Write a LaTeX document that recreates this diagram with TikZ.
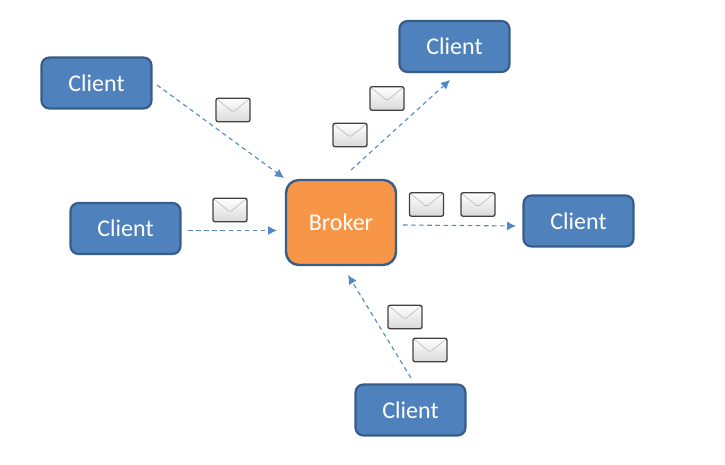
\documentclass[tikz,border=0pt]{standalone}
\usepackage{fontspec}
\setmainfont{Carlito}
\usetikzlibrary{arrows.meta}
\definecolor{cfill}{RGB}{79,129,189}
\definecolor{cline}{RGB}{56,93,138}
\definecolor{bfill}{RGB}{247,150,70}
\definecolor{aline}{RGB}{84,136,197}
\tikzset{
  x=1pt,y=-1pt,
  clientbox/.style={draw=cline,line width=2.2pt,fill=cfill,rounded corners=8pt,minimum width=110pt,minimum height=51pt,inner sep=0pt,text=white,font=\fontsize{24}{28}\selectfont},
  brokerbox/.style={draw=cline,line width=2.4pt,fill=bfill,rounded corners=13pt,minimum width=110pt,minimum height=85pt,inner sep=0pt,text=white,font=\fontsize{24}{28}\selectfont},
  msg/.style={draw=black!75,line width=1.3pt,rounded corners=2pt,top color=white,bottom color=black!15,minimum width=34pt,minimum height=23.5pt,inner sep=0pt,
    path picture={
      \draw[black!25,line width=.7pt]
        (path picture bounding box.north west) -- ([yshift=-14pt]path picture bounding box.north) -- (path picture bounding box.north east)
        (path picture bounding box.south west) -- ([xshift=10pt,yshift=-13pt]path picture bounding box.south west)
        (path picture bounding box.south east) -- ([xshift=-10pt,yshift=-13pt]path picture bounding box.south east);
    }},
  flow/.style={draw=aline,line width=1.1pt,dash pattern=on 4.5pt off 3.6pt,-{Latex[length=9pt,width=9pt]}}
}
\begin{document}
\begin{tikzpicture}
\useasboundingbox (0,0) rectangle (725,465);
\node[clientbox] (c1) at (96.5,83) {Client};
\node[clientbox] (c2) at (125.5,228.5) {Client};
\node[clientbox] (c3) at (454.5,46.5) {Client};
\node[clientbox] (c4) at (578.5,221) {Client};
\node[clientbox] (c5) at (410.5,410) {Client};
\node[brokerbox] (b) at (341,222.5) {Broker};
\node[msg] (m1) at (233,110) {};
\node[msg] (m2) at (230,210) {};
\node[msg] (m3) at (387,98.5) {};
\node[msg] (m4) at (350,135) {};
\node[msg] (m5) at (426.5,204.5) {};
\node[msg] (m6) at (478,204.5) {};
\node[msg] (m7) at (405,317) {};
\node[msg] (m8) at (430,350) {};
\coordinate (a1s) at (157,85);   \coordinate (a1e) at (284,178);
\coordinate (a2s) at (188,230.5);  \coordinate (a2e) at (277,230.5);
\coordinate (a3s) at (351,170);  \coordinate (a3e) at (450,80);
\coordinate (a4s) at (403,225);  \coordinate (a4e) at (516,226);
\coordinate (a5s) at (411,378);  \coordinate (a5e) at (348,275);
\draw[flow] (a1s) -- (a1e);
\draw[flow] (a2s) -- (a2e);
\draw[flow] (a3s) -- (a3e);
\draw[flow] (a4s) -- (a4e);
\draw[flow] (a5s) -- (a5e);
\end{tikzpicture}
\end{document}
